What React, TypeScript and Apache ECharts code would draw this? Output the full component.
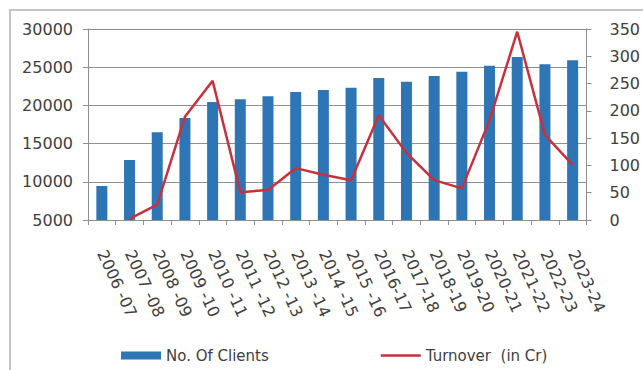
import React, { useEffect, useRef } from "react";
import * as echarts from "echarts";

const categories = [
  "2006 -07", "2007 -08", "2008 -09", "2009 -10", "2010 -11", "2011 -12",
  "2012 -13", "2013 -14", "2014 -15", "2015 -16", "2016-17", "2017-18",
  "2018-19", "2019-20", "2020-21", "2021-22", "2022-23", "2023-24",
];
const clients = [
  9450, 12850, 16500, 18350, 20450, 20800, 21200, 21750, 22000, 22300,
  23600, 23100, 23850, 24400, 25200, 26350, 25400, 25900,
];
const turnover: (number | null)[] = [
  null, 2, 28, 189, 255, 51, 55, 95, 83, 73, 192, 123, 73, 58, 183, 345, 156, 101,
];
const seriesNames = ["No. Of Clients", "Turnover  (in Cr)"];

const FONT = "DejaVu Sans";
const TXT = "#404040";
const GRID = "#8f8f8f";
const LINE_ICON = "path://M0,0 M0,8 M0,2.75 L40,2.75 L40,5.25 L0,5.25 Z";

export default function App() {
  const ref = useRef<HTMLDivElement>(null);
  useEffect(() => {
    if (!ref.current) return;
    const chart = echarts.init(ref.current, undefined, { renderer: "svg" });
    chart.setOption({
      animation: false,
      backgroundColor: "#ffffff",
      graphic: [
        {
          type: "rect",
          shape: { x: 10, y: 10, width: 700, height: 400 },
          style: { fill: "none", stroke: "#c4c4c4", lineWidth: 2 },
          silent: true,
          z: -1,
        },
      ],
      grid: { left: 88, right: 48, top: 29, bottom: 150, containLabel: false },
      legend: {
        left: 116,
        top: 343,
        itemWidth: 40,
        itemHeight: 8,
        itemGap: 112,
        textStyle: { fontFamily: FONT, fontSize: 15, color: TXT },
        data: [
          { name: seriesNames[0], icon: "rect" },
          { name: seriesNames[1], icon: LINE_ICON },
        ],
      },
      xAxis: {
        type: "category",
        data: categories,
        boundaryGap: true,
        axisLine: { show: true, lineStyle: { color: GRID, width: 1 } },
        axisTick: { show: true, length: 5, lineStyle: { color: GRID }, alignWithLabel: false },
        axisLabel: {
          interval: 0,
          rotate: -65,
          margin: 31,
          fontFamily: FONT,
          fontSize: 16,
          color: TXT,
        },
      },
      yAxis: [
        {
          type: "value",
          min: 5000,
          max: 30000,
          interval: 5000,
          axisLine: { show: true, lineStyle: { color: GRID } },
          axisTick: { show: true, length: 5, lineStyle: { color: GRID } },
          splitLine: { show: true, lineStyle: { color: GRID, width: 1 } },
          axisLabel: {
            margin: 15,
            fontFamily: FONT,
            fontSize: 16,
            color: TXT,
            formatter: (v: number) => String(v),
          },
        },
        {
          type: "value",
          min: 0,
          max: 350,
          interval: 50,
          position: "right",
          axisLine: { show: true, lineStyle: { color: GRID } },
          axisTick: { show: true, length: 5, lineStyle: { color: GRID } },
          splitLine: { show: false },
          axisLabel: {
            margin: 23,
            fontFamily: FONT,
            fontSize: 16,
            color: TXT,
            formatter: (v: number) => String(v),
          },
        },
      ],
      series: [
        {
          name: seriesNames[0],
          type: "bar",
          data: clients,
          barWidth: 11,
          itemStyle: { color: "#2E75B6" },
          yAxisIndex: 0,
        },
        {
          name: seriesNames[1],
          type: "line",
          data: turnover,
          yAxisIndex: 1,
          symbol: "none",
          connectNulls: false,
          lineStyle: { color: "#C8313C", width: 2.5 },
          itemStyle: { color: "#C8313C" },
        },
      ],
    });
    return () => chart.dispose();
  }, []);
  return (
    <div
      ref={ref}
      style={{ position: "fixed", left: 0, top: 0, width: 643, height: 370 }}
    />
  );
}
